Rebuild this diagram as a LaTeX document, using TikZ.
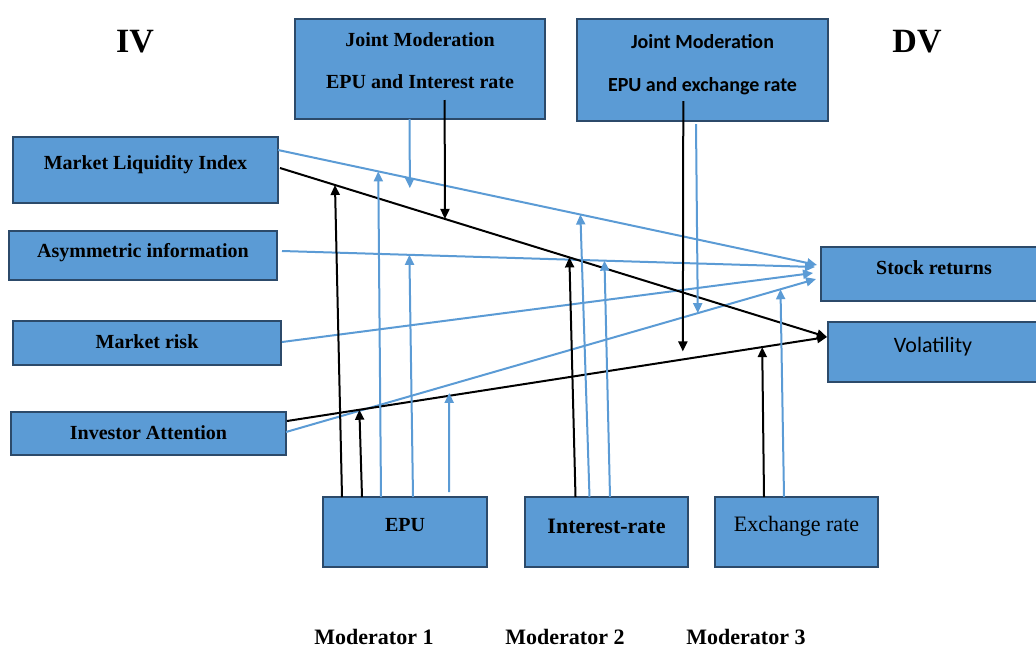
\documentclass[tikz,border=0pt]{standalone}
\usepackage{fontspec}
\setmainfont{Liberation Serif}
\newfontfamily\calibri{Carlito}
\usepackage{tikz}
\usetikzlibrary{positioning,arrows.meta,calc}
\definecolor{boxfill}{HTML}{5B9BD5}
\definecolor{boxline}{HTML}{2C4A6A}
\definecolor{linkblue}{HTML}{5B9BD5}
\tikzset{
  box/.style     ={draw=boxline, fill=boxfill, line width=1.2pt, anchor=north west,
                   inner xsep=0pt, inner ysep=0pt, outer sep=0pt, font=\bfseries},
  hd/.style 2 args={text height=#1, text depth=#2},
  bline/.style   ={draw=linkblue, line width=1pt},
  kline/.style   ={draw=black, line width=1pt},
  arrowhd/.style ={-{Triangle[length=5pt,width=4.5pt]}},
  sidehead/.style={font=\fontsize{17}{20}\selectfont\bfseries, anchor=base},
  modlabel/.style={font=\fontsize{11}{13}\selectfont\bfseries, anchor=base},
}

\begin{document}
\begin{tikzpicture}[x=0.5pt,y=-0.5pt,font=\fontsize{10}{12}\selectfont]
    \useasboundingbox (0,0) rectangle (1036,648);
    \clip (0,0) rectangle (1036,648);
    % --- headings ---
    \node[sidehead] (iv) at (135,52) {IV};
    \node[sidehead] (dv) at (917,52) {DV};
    % --- joint moderators ---
    \node[box,minimum width=125pt,hd={34.65pt}{15.35pt},align=center] (jmir) at (295,19)
        {Joint Moderation\\[8.8pt]EPU and Interest rate};
    \node[box,minimum width=125.5pt,hd={36pt}{15pt},align=center,font=\calibri\bfseries] (jmer) at (577,19)
        {Joint Moderation\\[9.3pt]EPU and exchange rate};
    % --- independent variables ---
    \node[box,minimum width=132.5pt,hd={16.25pt}{16.75pt}] (mli) at (13,137) {Market Liquidity Index};
    \node[box,minimum width=134pt,hd={13.35pt}{11.15pt}] (asym) at (9,231) {Asymmetric information};
    \node[box,minimum width=134pt,hd={13.65pt}{8.35pt}] (mrisk) at (13,321) {Market risk};
    \node[box,minimum width=137.5pt,hd={13.5pt}{8pt}] (attn) at (11,412) {Investor Attention};
    % --- dependent variables ---
    \node[box,minimum width=113pt,hd={13.65pt}{13.35pt}] (sret) at (821,247) {Stock returns};
    \node[box,minimum width=105pt,hd={15.35pt}{14.65pt},font=\calibri\fontsize{11}{13}\selectfont] (vol) at (828,322) {Volatility};
    % --- moderators ---
    \node[box,minimum width=82pt,hd={17pt}{18pt}] (epu) at (323,497) {EPU};
    \node[box,minimum width=81.5pt,hd={18.15pt}{16.85pt},font=\fontsize{11}{13}\selectfont\bfseries] (irate) at (525,497) {Interest-rate};
    \node[box,minimum width=81.5pt,hd={17.35pt}{17.65pt},font=\fontsize{11}{13}\selectfont\mdseries] (exrate) at (715,497) {Exchange rate};
    \node[modlabel] (mod1) at (374,644) {Moderator 1};
    \node[modlabel] (mod2) at (565,644) {Moderator 2};
    \node[modlabel] (mod3) at (746,644) {Moderator 3};
    % --- direct paths ---
    \draw[bline,arrowhd] ([yshift=10pt]mli.east) -- coordinate[pos=.186] (e1) coordinate[pos=.2446] (j1)
        coordinate[pos=.561] (r1) ([xshift=-2pt,yshift=4.5pt]sret.west);
    \draw[bline,arrowhd] ([xshift=2.5pt,yshift=2.25pt]asym.east) -- coordinate[pos=.239] (e2)
        coordinate[pos=.605] (r2) ([xshift=-3pt,yshift=3.5pt]sret.west);
    \draw[bline,arrowhd] ([xshift=.5pt,yshift=.5pt]mrisk.east) -- ([xshift=-4pt,yshift=.5pt]sret.west);
    \draw[bline,arrowhd] ([yshift=.75pt]attn.east) -- coordinate[pos=.308] (e4) coordinate[pos=.777] (k4)
        coordinate[pos=.933] (x4) ([xshift=-2.5pt,yshift=-2.5pt]sret.west);
    \draw[kline,arrowhd] ([xshift=1pt,yshift=1pt]mli.east) -- coordinate[pos=.1005] (e5) coordinate[pos=.3016] (j5)
        coordinate[pos=.529] (r5) ([xshift=-.5pt,yshift=7.5pt]vol.west);
    \draw[kline,arrowhd] ([xshift=.5pt,yshift=6.25pt]attn.east) -- coordinate[pos=.134] (e6) coordinate[pos=.733] (k6)
        coordinate[pos=.880] (x6) ([xshift=-.5pt,yshift=7.5pt]vol.west);
    % --- moderating paths ---
    \draw[kline,arrowhd] ([xshift=-31.5pt]epu.north) -- (e5);
    \draw[kline,arrowhd] ([xshift=-21.5pt]epu.north) -- (e6);
    \draw[bline,arrowhd] ([xshift=-12pt]epu.north) -- (e1);
    \draw[bline,arrowhd] ([xshift=4pt]epu.north) -- (e2);
    \draw[bline,arrowhd,shorten >=4pt] ([xshift=22pt,yshift=2.5pt]epu.north) -- (e4);
    \draw[kline,arrowhd] ([xshift=-15.5pt]irate.north) -- (r5);
    \draw[bline,arrowhd] ([xshift=-8.5pt]irate.north) -- (r1);
    \draw[bline,arrowhd] ([xshift=1.75pt]irate.north) -- (r2);
    \draw[kline,arrowhd] ([xshift=-16.25pt]exrate.north) -- (x6);
    \draw[bline,arrowhd] ([xshift=-6.25pt]exrate.north) -- (x4);
    \draw[bline,arrowhd] ([xshift=-5.2pt]jmir.south) -- ([yshift=-5pt]j1);
    \draw[kline,arrowhd] ([xshift=12.3pt,yshift=9.5pt]jmir.south) -- (j5);
    \draw[kline,arrowhd,shorten >=4pt] ([xshift=-9.6pt,yshift=10pt]jmer.south) -- (k6);
    \draw[bline,arrowhd] ([xshift=-3.25pt,yshift=-1.6pt]jmer.south) -- (k4);
\end{tikzpicture}
\end{document}
